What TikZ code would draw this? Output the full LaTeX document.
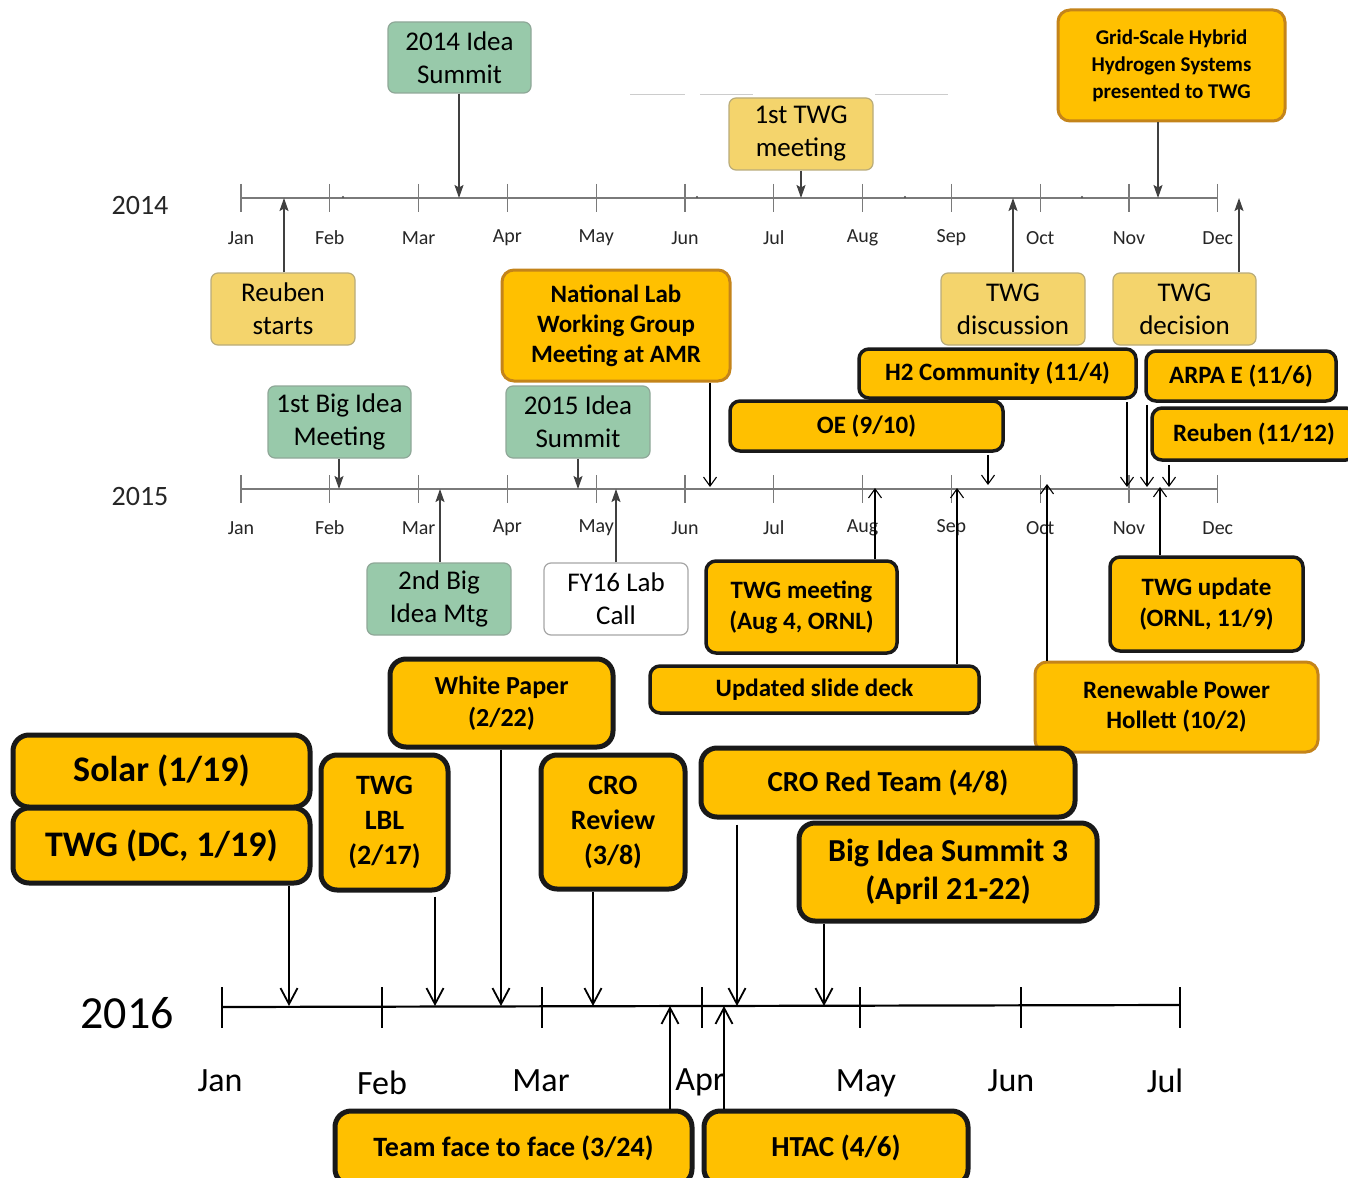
\documentclass[tikz,border=0pt]{standalone}
\usepackage{fontspec}
\setmainfont{Carlito}
\usetikzlibrary{arrows.meta}

\definecolor{mintfill}{HTML}{98C9AA}
\definecolor{mintedge}{HTML}{8FA898}
\definecolor{sandfill}{HTML}{F4D46C}
\definecolor{sandedge}{HTML}{B9AC7A}
\definecolor{amber}{HTML}{FFC000}
\definecolor{amberedge}{HTML}{C4841A}
\definecolor{axisgray}{HTML}{7A7A7A}

\newcommand\fsz[2]{\fontsize{#1}{#2}\selectfont}

\tikzset{
  box/.style={rectangle, align=center, inner sep=0pt},
  sz/.style 2 args={minimum width=#1pt, minimum height=#2pt},
  mint/.style={box, rounded corners=7pt, fill=mintfill, draw=mintedge, line width=1.2pt, font=\fsz{27}{33}},
  sand/.style={box, rounded corners=7pt, fill=sandfill, draw=sandedge, line width=1.2pt, font=\fsz{27}{33}},
  paper/.style={box, rounded corners=7pt, fill=white, draw=gray!70, line width=1.2pt, font=\fsz{27}{33}},
  amberA/.style={box, rounded corners=12pt, fill=amber, draw=amberedge, line width=3pt, font=\bfseries\fsz{25}{30}},
  amberB/.style={box, rounded corners=10pt, fill=amber, draw=black!90, line width=3.5pt, font=\bfseries\fsz{25}{31}},
  amberC/.style={box, rounded corners=16pt, fill=amber, draw=black!90, line width=5pt, font=\bfseries\fsz{29}{35}},
  solidtip/.style={draw=black!75, line width=1.4pt, -{Stealth[length=13pt,width=9pt,inset=2.5pt]}},
  thintip/.style={draw=black, line width=1.1pt, -{Straight Barb[length=9pt,width=13pt]}},
  bigtip/.style={draw=black, line width=1.8pt, -{Straight Barb[length=16pt,width=17pt]}},
  monthlbl/.style={font=\fsz{20}{24}, text=black!85},
  bigmonth/.style={font=\fsz{34}{40}},
  yearlbl/.style={font=\fsz{28}{32}, text=black!85},
}

\begin{document}
\begin{tikzpicture}[x=1pt,y=-1pt]
\useasboundingbox[fill=white] (0,0) rectangle (1348,1177);

% ---------------- 2014 axis ----------------
\node[yearlbl] (y14) at (140,206) {2014};
\draw[axisgray, line width=1.5pt] (241,198) -- (1218,198);
\foreach \m [count=\i from 0] in {Jan,Feb,Mar,Apr,May,Jun,Jul,Aug,Sep,Oct,Nov,Dec}{
  \draw[axisgray, line width=1.2pt] ({241+\i*88.8},184) -- ({241+\i*88.8},212);
  \node[monthlbl] (m14-\i) at ({241+\i*88.8},238) {\m};
}
\foreach \d in {343,697,905,1082}{\fill[black!70] (\d,197) circle (1.1pt);}
\draw[black!20, line width=0.8pt] (630,94) -- (685,94) (700,94) -- (753,94) (875,94) -- (948,94);

% ---------------- 2015 axis ----------------
\node[yearlbl] (y15) at (140,497) {2015};
\draw[axisgray, line width=1.5pt] (241,489) -- (1218,489);
\foreach \m [count=\i from 0] in {Jan,Feb,Mar,Apr,May,Jun,Jul,Aug,Sep,Oct,Nov,Dec}{
  \draw[axisgray, line width=1.2pt] ({241+\i*88.8},475) -- ({241+\i*88.8},503);
  \node[monthlbl] (m15-\i) at ({241+\i*88.8},528) {\m};
}

% ---------------- 2016 axis ----------------
\node[font=\fsz{46}{52}] (y16) at (127,1013) {2016};
\draw[black, line width=2.2pt] (222,1007) -- (1180,1005);
\foreach \x in {222,382,542,702,860,1021,1180}{
  \draw[black, line width=1.8pt] (\x,987) -- (\x,1028);
}
\node[bigmonth] (m16-1) at (220,1081) {Jan};
\node[bigmonth] (m16-2) at (382,1083) {Feb};
\node[bigmonth] (m16-3) at (541,1081) {Mar};
\node[bigmonth] (m16-4) at (700,1082) {Apr};
\node[bigmonth] (m16-5) at (866,1083) {May};
\node[bigmonth] (m16-6) at (1011,1081) {Jun};
\node[bigmonth] (m16-7) at (1165,1081) {Jul};

% ---------------- 2014 events ----------------
\node[mint, sz={143}{71}] (idea14) at (459.5,57.5) {2014 Idea\\Summit};
\node[sand, sz={144}{72}] (twg1) at (801,134) {1st TWG\\meeting};
\node[amberA, sz={227}{111}, font=\bfseries\fsz{21}{27}] (grid) at (1171.5,65.5) {Grid-Scale Hybrid\\Hydrogen Systems\\presented to TWG};
\node[sand, sz={144}{72}] (reuben) at (283,309) {Reuben\\starts};
\node[sand, sz={144}{72}] (twgdisc) at (1013,309) {TWG\\discussion};
\node[sand, sz={143}{72}] (twgdec) at (1184.5,309) {TWG\\decision};

\coordinate (p-idea14) at (459,198);
\coordinate (p-twg1) at (801,198);
\coordinate (p-grid) at (1158,198);
\coordinate (p-reuben) at (284,198);
\coordinate (p-twgdisc) at (1013,198);
\coordinate (p-twgdec) at (1239,198);

\draw[solidtip] (idea14.south -| p-idea14) -- (p-idea14);
\draw[solidtip] (twg1.south -| p-twg1) -- (p-twg1);
\draw[solidtip] (grid.south -| p-grid) -- (p-grid);
\draw[solidtip] (reuben.north -| p-reuben) -- (p-reuben);
\draw[solidtip] (twgdisc.north -| p-twgdisc) -- (p-twgdisc);
\draw[solidtip] (twgdec.north -| p-twgdec) -- (p-twgdec);

% ---------------- 2015 events ----------------
\node[amberA, sz={228}{111}] (natlab) at (616,325.5) {National Lab\\Working Group\\Meeting at AMR};
\node[mint, sz={143}{72}] (bigidea1) at (339.5,422) {1st Big Idea\\Meeting};
\node[mint, sz={144}{72}] (idea15) at (578,422) {2015 Idea\\Summit};
\node[mint, sz={144}{72}] (bigidea2) at (439,599) {2nd Big\\Idea Mtg};
\node[paper, sz={144}{72}] (fy16) at (616,599) {FY16 Lab\\Call};
\node[amberB, sz={277}{49}] (h2) at (997.5,373.5) {H2 Community (11/4)};
\node[amberB, sz={190}{50}] (arpa) at (1241,376) {ARPA E (11/6)};
\node[amberB, sz={273}{50}] (oe) at (866.5,426) {OE (9/10)};
\node[amberB, sz={204}{52}] (reub2) at (1254,434) {Reuben (11/12)};
\node[amberB, sz={191}{92}] (twgmtg) at (801.5,607) {TWG meeting\\(Aug 4, ORNL)};
\node[amberB, sz={329}{47}] (slide) at (814.5,689.5) {Updated slide deck};
\node[amberA, sz={283}{90}] (renew) at (1176.5,707) {Renewable Power\\Hollett (10/2)};
\node[amberB, sz={193}{94}] (twgupd) at (1206.5,604) {TWG update\\(ORNL, 11/9)};

\coordinate (p-natlab) at (710,487);
\coordinate (p-bigidea1) at (339,489);
\coordinate (p-idea15) at (578,489);
\coordinate (p-bigidea2) at (440,489);
\coordinate (p-fy16) at (616,489);
\coordinate (p-h2) at (1127,487);
\coordinate (p-arpa) at (1147,487);
\coordinate (p-reub2) at (1169,487);
\coordinate (p-oe) at (988,485);
\coordinate (p-twgmtg) at (875,488);
\coordinate (p-slide) at (957,488);
\coordinate (p-renew) at (1047,484);
\coordinate (p-twgupd) at (1160,487);

\draw[thintip] (natlab.south -| p-natlab) -- (p-natlab);
\draw[solidtip] (bigidea1.south -| p-bigidea1) -- (p-bigidea1);
\draw[solidtip] (idea15.south -| p-idea15) -- (p-idea15);
\draw[solidtip] (bigidea2.north -| p-bigidea2) -- (p-bigidea2);
\draw[solidtip] (fy16.north -| p-fy16) -- (p-fy16);
\draw[thintip] ([yshift=-2pt]h2.south -| p-h2) -- (p-h2);
\draw[thintip] ([yshift=-2pt]arpa.south -| p-arpa) -- (p-arpa);
\draw[thintip] ([yshift=-3pt]reub2.south -| p-reub2) -- (p-reub2);
\draw[thintip] ([yshift=-2pt]oe.south -| p-oe) -- (p-oe);
\draw[thintip] (twgmtg.north -| p-twgmtg) -- (p-twgmtg);
\draw[thintip] (slide.north -| p-slide) -- (p-slide);
\draw[thintip] (renew.north -| p-renew) -- (p-renew);
\draw[thintip] (twgupd.north -| p-twgupd) -- (p-twgupd);

% ---------------- 2016 events ----------------
\node[amberC, sz={297}{72}, font=\bfseries\fsz{36}{40}] (solar) at (161.5,771) {Solar (1/19)};
\node[amberC, sz={297}{75}, font=\bfseries\fsz{36}{40}] (twgdc) at (161.5,845.5) {TWG (DC, 1/19)};
\node[amberC, sz={127}{135}, font=\bfseries\fsz{28}{35}] (lbl) at (384.5,822.5) {TWG\\LBL\\(2/17)};
\node[amberC, sz={223}{88}, font=\bfseries\fsz{26}{32}] (white) at (501.5,703) {White Paper\\(2/22)};
\node[amberC, sz={144}{134}, font=\bfseries\fsz{28}{35}] (crorev) at (613,822) {CRO\\Review\\(3/8)};
\node[amberC, sz={374}{69}] (redteam) at (888,782.5) {CRO Red Team (4/8)};
\node[amberC, sz={298}{98}, font=\bfseries\fsz{32}{38}] (summit3) at (948,872) {Big Idea Summit 3\\(April 21-22)};
% the lower boxes run past the bottom edge of the page
\node[amberC, sz={357}{74}, font=\bfseries\fsz{28}{34}] (f2f) at (513.5,1148) {Team face to face (3/24)};
\node[amberC, sz={264}{74}] (htac) at (836,1148) {HTAC (4/6)};

\coordinate (p-twgdc) at (289,1006);
\coordinate (p-lbl) at (435,1006);
\coordinate (p-white) at (501,1006);
\coordinate (p-crorev) at (593,1006);
\coordinate (p-redteam) at (737,1006);
\coordinate (p-summit3) at (824,1006);
\coordinate (p-f2f) at (670,1006);
\coordinate (p-htac) at (724,1006);

\draw[bigtip] (twgdc.south -| p-twgdc) -- (p-twgdc);
\draw[bigtip] ([yshift=-4pt]lbl.south -| p-lbl) -- (p-lbl);
\draw[bigtip] (white.south -| p-white) -- (p-white);
\draw[bigtip] (crorev.south -| p-crorev) -- (p-crorev);
\draw[bigtip] ([yshift=-5pt]redteam.south -| p-redteam) -- (p-redteam);
\draw[bigtip] (summit3.south -| p-summit3) -- (p-summit3);
\draw[bigtip] (f2f.north -| p-f2f) -- (p-f2f);
\draw[bigtip] (htac.north -| p-htac) -- (p-htac);
\end{tikzpicture}
\end{document}
